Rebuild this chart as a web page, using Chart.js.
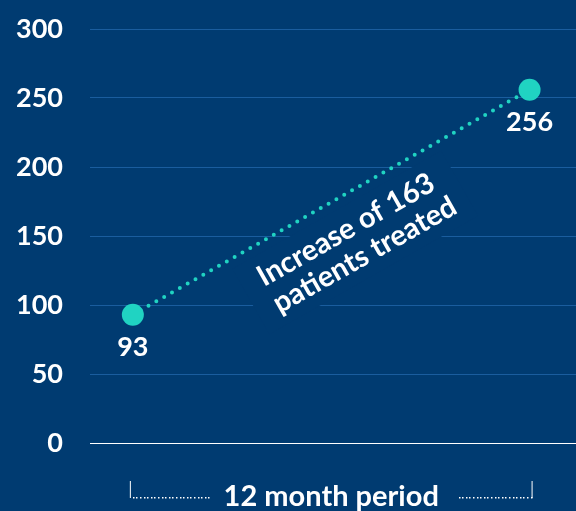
<!DOCTYPE html>
<html>
<head>
<meta charset="utf-8">
<script src="https://cdn.jsdelivr.net/npm/chart.js@4"></script>
<style>
  html, body { margin: 0; padding: 0; background: #003b71; }
  #wrap { width: 576px; height: 511px; }
</style>
</head>
<body>
<div id="wrap"><canvas id="c"></canvas></div>
<script>
const periods = ['Start', 'End'];
const patients = [93, 256];
const yTicks = [0, 50, 100, 150, 200, 250, 300];
const noteLines = ['Increase of 163', 'patients treated'];
const periodLabel = '12 month period';

const BG = '#003b71';
const TEAL = '#20d3c2';
const FONT = 'Lato, "Open Sans", sans-serif';
const NOTE_X = 355, NOTE_Y = 242;

// value labels, annotation and the period bracket
const overlay = {
    id: 'overlay',
    beforeDatasetsDraw(chart) {
        // clear the grid behind the rotated note
        const { ctx } = chart;
        const p0 = chart.getDatasetMeta(0).data[0], p1 = chart.getDatasetMeta(0).data[1];
        const ang = Math.atan2(p1.y - p0.y, p1.x - p0.x);
        ctx.save();
        ctx.translate(NOTE_X, NOTE_Y);
        ctx.rotate(ang);
        ctx.fillStyle = BG;
        ctx.fillRect(-120, -37, 240, 75);
        ctx.restore();
    },
    afterDraw(chart) {
        const { ctx } = chart;
        const meta = chart.getDatasetMeta(0);
        const p0 = meta.data[0], p1 = meta.data[1];
        ctx.save();
        ctx.fillStyle = '#fff';
        ctx.font = 'bold 27px ' + FONT;
        ctx.textAlign = 'center';
        ctx.textBaseline = 'middle';
        meta.data.forEach((pt, i) => ctx.fillText(patients[i], pt.x, pt.y + 33));

        const ang = Math.atan2(p1.y - p0.y, p1.x - p0.x);
        ctx.translate(NOTE_X, NOTE_Y);
        ctx.rotate(ang);
        ctx.font = 'bold 29px ' + FONT;
        ctx.fillText(noteLines[0], -2, -15);
        ctx.fillText(noteLines[1], 2, 16);
        ctx.restore();

        // bracket under the chart
        const xl = p0.x - 3, xr = p1.x + 2, yb = 498, yt = 481;
        ctx.save();
        ctx.strokeStyle = '#fff';
        ctx.lineWidth = 1;
        ctx.beginPath();
        ctx.moveTo(xl + 0.5, yt); ctx.lineTo(xl + 0.5, yb);
        ctx.moveTo(xr + 0.5, yt); ctx.lineTo(xr + 0.5, yb);
        ctx.stroke();
        ctx.fillStyle = '#fff';
        for (let x = xl + 3; x < xl + 82; x += 3.6) ctx.fillRect(Math.round(x), yb - 1, 1.5, 1.5);
        for (let x = xr - 73; x < xr; x += 3.6) ctx.fillRect(Math.round(x), yb - 1, 1.5, 1.5);
        ctx.font = 'bold 29px ' + FONT;
        ctx.textAlign = 'center';
        ctx.textBaseline = 'alphabetic';
        ctx.fillText(periodLabel, (p0.x + p1.x) / 2, 506);
        ctx.restore();
    }
};

new Chart(document.getElementById('c'), {
    type: 'line',
    data: {
        labels: periods,
        datasets: [{
            data: patients.map((v, i) => ({ x: i, y: v })),
            borderColor: TEAL,
            borderWidth: 4,
            borderDash: [0, 9],
            borderCapStyle: 'round',
            pointRadius: 11,
            pointHoverRadius: 11,
            pointBackgroundColor: TEAL,
            pointBorderWidth: 0,
            clip: false
        }]
    },
    options: {
        responsive: true, maintainAspectRatio: false, animation: false,
        layout: { autoPadding: false, padding: { top: 29, bottom: 68, right: 0, left: 0 } },
        plugins: { legend: { display: false }, tooltip: { enabled: false } },
        scales: {
            x: { type: 'linear', display: false, min: -0.108, max: 1.117 },
            y: {
                min: 0, max: 300,
                afterBuildTicks: s => { s.ticks = yTicks.map(v => ({ value: v })); },
                afterFit: s => { s.width = 90; s.paddingTop = 0; s.paddingBottom = 0; },
                border: { display: false },
                grid: {
                    drawTicks: false,
                    lineWidth: 1,
                    color: c => c.tick.value === 0 ? '#ffffff' : '#1a5d9e'
                },
                ticks: { color: '#fff', padding: 27, font: { family: FONT, size: 27, weight: 'bold' } }
            }
        }
    },
    plugins: [overlay]
});
</script>
</body>
</html>
